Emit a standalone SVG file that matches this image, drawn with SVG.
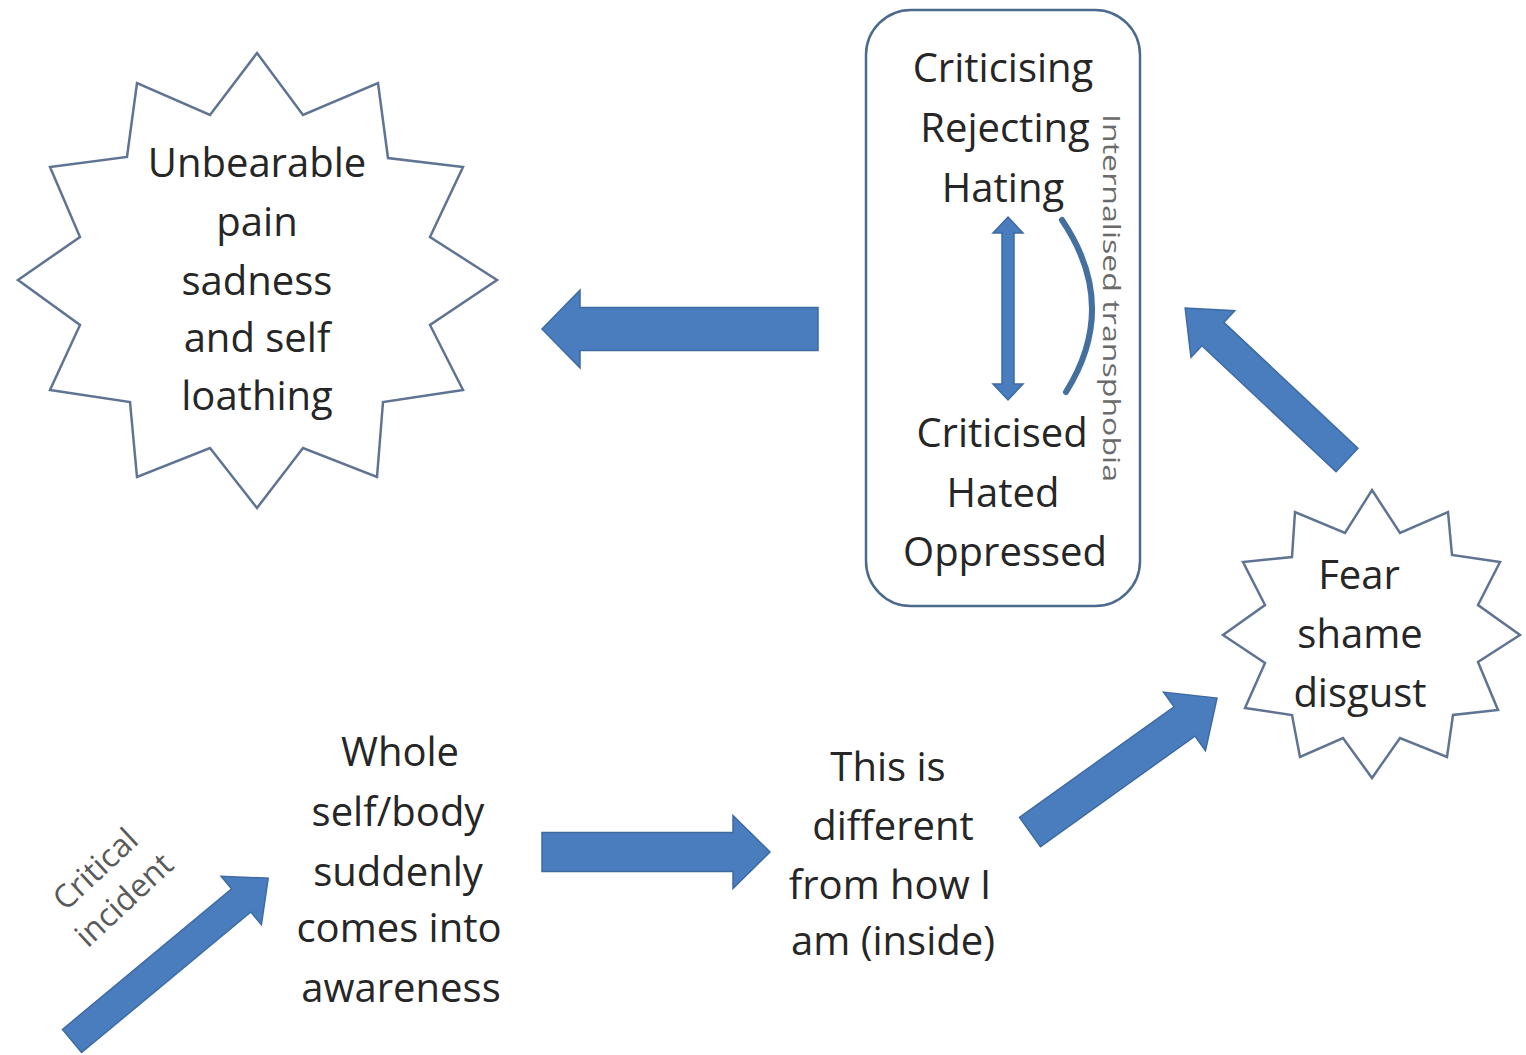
<svg xmlns="http://www.w3.org/2000/svg" width="1526" height="1055" viewBox="0 0 1526 1055">
<style>
.t{font-family:"Open Sans","Liberation Sans",sans-serif;font-size:40px;fill:#262626;text-anchor:middle}
.star{fill:#ffffff;stroke:#5f7493;stroke-width:2.5;stroke-linejoin:miter}
.arr{fill:#4a7dbe;stroke:#3e6ba3;stroke-width:1.5}
.small{font-family:"Open Sans","Liberation Sans",sans-serif;font-size:32px;fill:#5a5a5a;text-anchor:middle}
.vert{font-family:"Open Sans","Liberation Sans",sans-serif;font-size:24px;fill:#6a6a6a;text-anchor:middle}
</style>
<rect x="0" y="0" width="1526" height="1055" fill="#ffffff"/>

<g id="node-unbearable">
<polygon class="star" points="257,53 303,115 378,83 388,158 463,167 430,237 497,280 430,325 463,390 383,402 377,477 303,448 257,508 210,448 137,477 130,402 50,390 80,325 18,280 80,237 50,167 127,157 137,83 210,115"/>
<text class="t" x="257" y="177">Unbearable</text>
<text class="t" x="257" y="236">pain</text>
<text class="t" x="257" y="295">sadness</text>
<text class="t" x="257" y="352">and self</text>
<text class="t" x="257" y="410">loathing</text>
</g>

<g id="node-box">
<rect x="866" y="10" width="274" height="596" rx="45" ry="45" fill="#ffffff" stroke="#4c6a8e" stroke-width="2.5"/>
<text class="t" x="1003" y="82">Criticising</text>
<text class="t" x="1005" y="142">Rejecting</text>
<text class="t" x="1003" y="202">Hating</text>
<text class="t" x="1002" y="447">Criticised</text>
<text class="t" x="1003" y="507">Hated</text>
<text class="t" x="1005" y="566">Oppressed</text>
<text class="vert" transform="translate(1103,298) rotate(90)" x="0" y="0" textLength="368" lengthAdjust="spacingAndGlyphs">Internalised transphobia</text>
<path class="arr" d="M1008,217 L1023,233 L1014,233 L1014,384 L1023,384 L1008,400 L993,384 L1002,384 L1002,233 L993,233 Z"/>
<path d="M1062,220 Q1120,306 1066,392" fill="none" stroke="#44709f" stroke-width="6" stroke-linecap="round"/>
</g>

<g id="node-fear">
<polygon class="star" points="1372,490 1400,533 1448,512 1452,555 1500,562 1478,605 1520,635 1478,662 1498,710 1453,715 1447,757 1400,738 1372,778 1343,738 1300,757 1292,715 1245,708 1265,663 1223,635 1265,605 1243,562 1292,557 1295,512 1345,533"/>
<text class="t" x="1359" y="589">Fear</text>
<text class="t" x="1360" y="648">shame</text>
<text class="t" x="1360" y="707">disgust</text>
</g>

<g id="node-whole">
<text class="t" x="400" y="766">Whole</text>
<text class="t" x="398" y="826">self/body</text>
<text class="t" x="398" y="886">suddenly</text>
<text class="t" x="399" y="942">comes into</text>
<text class="t" x="401" y="1002">awareness</text>
</g>

<g id="node-different">
<text class="t" x="888" y="781">This is</text>
<text class="t" x="893" y="840">different</text>
<text class="t" x="890" y="899">from how I</text>
<text class="t" x="893" y="955">am (inside)</text>
</g>

<g id="connectors">
<path class="arr" transform="translate(818,329) rotate(180)" d="M0,-21.5 H238 V-39 L276,0 L238,39 V21.5 H0 Z"/>
<path class="arr" transform="translate(542,852)" d="M0,-19.5 H191 V-36.5 L228,0 L191,36.5 V19.5 H0 Z"/>
<path class="arr" transform="translate(1030,832) rotate(-35.6)" d="M0,-18 H190 V-36 L230,0 L190,36 V18 H0 Z"/>
<path class="arr" transform="translate(1347,460) rotate(-136.8)" d="M0,-16 H184 V-32 L222,0 L184,32 V16 H0 Z"/>
<path class="arr" transform="translate(72,1041) rotate(-39.7)" d="M0,-15 H220 V-31.5 L255,0 L220,31.5 V15 H0 Z"/>
<text class="small" transform="translate(111,886) rotate(-43)"><tspan x="0" y="-12">Critical</tspan><tspan x="0" y="30">incident</tspan></text>
</g>
</svg>
